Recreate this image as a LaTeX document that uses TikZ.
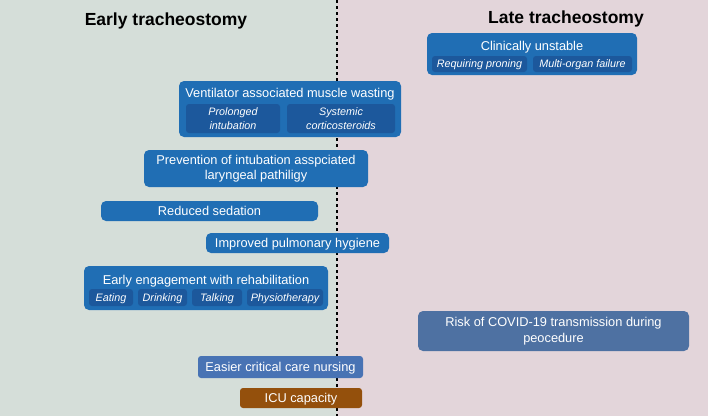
\documentclass[tikz,border=0pt]{standalone}
\usepackage{fontspec}
\setmainfont{Liberation Sans}
\usepackage{xcolor}
\usetikzlibrary{positioning}

\definecolor{earlybg}{RGB}{213,222,217}
\definecolor{latebg}{RGB}{227,213,218}
\definecolor{boxblue}{RGB}{32,110,180}
\definecolor{subblue}{RGB}{28,88,156}
\definecolor{riskblue}{RGB}{78,113,162}
\definecolor{nurseblue}{RGB}{72,115,180}
\definecolor{icubrown}{RGB}{148,80,12}

\begin{document}
\begin{tikzpicture}[x=1pt, y=-1pt]
  \tikzset{
    mainbox/.style={rectangle, rounded corners=5pt, fill=boxblue, draw=none, text=white,
      font=\fontsize{12.8}{15.5}\selectfont, align=center, inner sep=0pt},
    subbox/.style={rectangle, rounded corners=3pt, fill=subblue, draw=none, text=white,
      font=\fontsize{10.8}{14}\selectfont\itshape, align=center, inner sep=0pt},
    boxtitle/.style={text=white, font=\fontsize{12.8}{15.5}\selectfont, inner sep=0pt},
    oneline/.style={text height=9.2pt, text depth=0pt},
    subline/.style={text height=7.7pt, text depth=0pt},
    header/.style={font=\fontsize{17.5}{20}\selectfont\bfseries, inner sep=0pt},
    divider/.style={line width=1.6pt, dash pattern=on 3pt off 3pt}
  }

  \useasboundingbox (0,0) rectangle (708,416);

  % Two halves of the timeline
  \fill[earlybg] (0,0) rectangle (337,416);
  \fill[latebg] (337,0) rectangle (708,416);
  \coordinate (DivTop) at (337,0);
  \coordinate (DivBottom) at (337,416);
  \draw[divider] (DivTop) -- (DivBottom);

  % Headers
  \node[header] (early) at (166,21) {Early tracheostomy};
  \node[header] (late) at (566,19) {Late tracheostomy};

  % Clinically unstable
  \node[mainbox, minimum width=210, minimum height=42] (unstable) at (532,54) {};
  \node[boxtitle, oneline] (unstableT) at (532,46) {Clinically unstable};
  \node[subbox, subline, minimum width=95, minimum height=16] (proning) at (479.5,64) {Requiring proning};
  \node[subbox, subline, minimum width=99, minimum height=16] (organ) at (582.5,64) {Multi-organ failure};

  % Ventilator associated muscle wasting
  \node[mainbox, minimum width=222, minimum height=56] (wasting) at (290,109) {};
  \node[boxtitle, oneline] (wastingT) at (290,93) {Ventilator associated muscle wasting};
  \node[subbox, minimum width=94, minimum height=29] (intub) at (233,118.5) {Prolonged\\intubation};
  \node[subbox, minimum width=108, minimum height=29] (steroid) at (341,118.5) {Systemic\\corticosteroids};

  % Single boxes
  \node[mainbox, minimum width=224, minimum height=37] (laryn) at (256,168.5)
    {Prevention of intubation asspciated\\laryngeal pathiligy};
  \node[mainbox, oneline, minimum width=217, minimum height=20] (sedation) at (209.5,211) {Reduced sedation};
  \node[mainbox, oneline, minimum width=183, minimum height=20] (hygiene) at (297.5,243) {Improved pulmonary hygiene};

  % Early engagement with rehabilitation
  \node[mainbox, minimum width=244, minimum height=44] (rehab) at (206,288) {};
  \node[boxtitle, oneline] (rehabT) at (206,280) {Early engagement with rehabilitation};
  \node[subbox, subline, minimum width=44, minimum height=17] (eat) at (111,297.5) {Eating};
  \node[subbox, subline, minimum width=49, minimum height=17] (drink) at (162.5,297.5) {Drinking};
  \node[subbox, subline, minimum width=50, minimum height=17] (talk) at (217,297.5) {Talking};
  \node[subbox, subline, minimum width=76, minimum height=17] (physio) at (285,297.5) {Physiotherapy};

  % Other factors
  \node[mainbox, fill=riskblue, minimum width=271, minimum height=40] (covid) at (553.5,331)
    {Risk of COVID-19 transmission during\\peocedure};
  \node[mainbox, oneline, fill=nurseblue, rounded corners=3pt, minimum width=165, minimum height=22] (nursing) at (280.5,367)
    {Easier critical care nursing};
  \node[mainbox, oneline, fill=icubrown, rounded corners=3pt, minimum width=122, minimum height=20] (icu) at (301,398) {ICU capacity};
\end{tikzpicture}
\end{document}
